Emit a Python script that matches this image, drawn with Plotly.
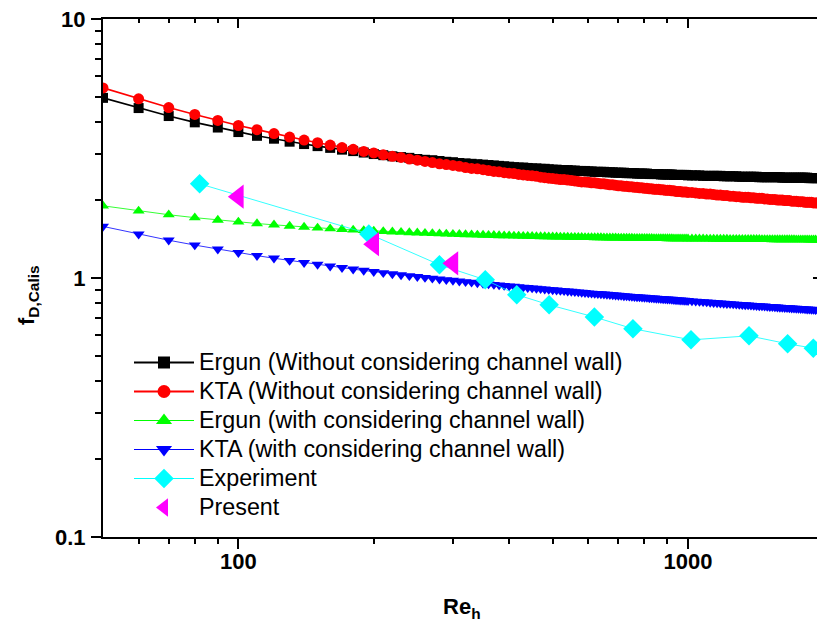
import plotly.graph_objects as go

# ---------------- data ----------------
re_model = [50, 60, 70, 80, 90, 100, 110, 120, 130, 140,
            150, 160, 170, 180, 190, 200, 210, 220, 230, 240,
            250, 260, 270, 280, 290, 300, 310, 320, 330, 340,
            350, 360, 370, 380, 390, 400, 410, 420, 430, 440,
            450, 460, 470, 480, 490, 500, 510, 520, 530, 540,
            550, 560, 570, 580, 590, 600, 610, 620, 630, 640,
            650, 660, 670, 680, 690, 700, 710, 720, 730, 740,
            750, 760, 770, 780, 790, 800, 810, 820, 830, 840,
            850, 860, 870, 880, 890, 900, 910, 920, 930, 940,
            950, 960, 970, 980, 990, 1000, 1020, 1040, 1060, 1080,
            1100, 1120, 1140, 1160, 1180, 1200, 1220, 1240, 1260, 1280,
            1300, 1320, 1340, 1360, 1380, 1400, 1420, 1440, 1460, 1480,
            1500, 1520, 1540, 1560, 1580, 1600, 1620, 1640, 1660, 1680,
            1700, 1720, 1740, 1760, 1780, 1800, 1820, 1840, 1860, 1880,
            1900, 1920, 1940, 1960, 1980, 2000]

ergun_no_wall = [4.96, 4.53, 4.22, 3.99, 3.81, 3.66, 3.54, 3.45, 3.36, 3.29,
                 3.23, 3.18, 3.13, 3.09, 3.05, 3.01, 2.98, 2.95, 2.93, 2.91,
                 2.88, 2.86, 2.85, 2.83, 2.81, 2.80, 2.78, 2.77, 2.76, 2.75,
                 2.74, 2.73, 2.72, 2.71, 2.70, 2.69, 2.68, 2.67, 2.67, 2.66,
                 2.65, 2.65, 2.64, 2.64, 2.63, 2.62, 2.62, 2.61, 2.61, 2.61,
                 2.60, 2.60, 2.59, 2.59, 2.59, 2.58, 2.58, 2.57, 2.57, 2.57,
                 2.57, 2.56, 2.56, 2.56, 2.55, 2.55, 2.55, 2.55, 2.54, 2.54,
                 2.54, 2.54, 2.53, 2.53, 2.53, 2.53, 2.53, 2.52, 2.52, 2.52,
                 2.52, 2.52, 2.51, 2.51, 2.51, 2.51, 2.51, 2.51, 2.50, 2.50,
                 2.50, 2.50, 2.50, 2.50, 2.50, 2.49, 2.49, 2.49, 2.49, 2.48,
                 2.48, 2.48, 2.48, 2.48, 2.48, 2.47, 2.47, 2.47, 2.47, 2.47,
                 2.46, 2.46, 2.46, 2.46, 2.46, 2.46, 2.46, 2.45, 2.45, 2.45,
                 2.45, 2.45, 2.45, 2.45, 2.45, 2.45, 2.44, 2.44, 2.44, 2.44,
                 2.44, 2.44, 2.44, 2.44, 2.44, 2.44, 2.44, 2.44, 2.43, 2.43,
                 2.43, 2.43, 2.43, 2.43, 2.43, 2.43]

kta_no_wall = [5.42, 4.92, 4.55, 4.28, 4.06, 3.88, 3.74, 3.61, 3.50, 3.41,
               3.33, 3.26, 3.19, 3.14, 3.08, 3.04, 2.99, 2.95, 2.92, 2.88,
               2.85, 2.82, 2.79, 2.76, 2.74, 2.72, 2.70, 2.67, 2.65, 2.64,
               2.62, 2.60, 2.58, 2.57, 2.55, 2.54, 2.53, 2.51, 2.50, 2.49,
               2.48, 2.47, 2.45, 2.44, 2.43, 2.42, 2.41, 2.40, 2.40, 2.39,
               2.38, 2.37, 2.36, 2.35, 2.35, 2.34, 2.33, 2.33, 2.32, 2.31,
               2.31, 2.30, 2.29, 2.29, 2.28, 2.27, 2.27, 2.26, 2.26, 2.25,
               2.25, 2.24, 2.24, 2.23, 2.23, 2.22, 2.22, 2.21, 2.21, 2.20,
               2.20, 2.20, 2.19, 2.19, 2.18, 2.18, 2.18, 2.17, 2.17, 2.16,
               2.16, 2.16, 2.15, 2.15, 2.15, 2.14, 2.14, 2.13, 2.12, 2.12,
               2.11, 2.11, 2.10, 2.09, 2.09, 2.08, 2.08, 2.07, 2.07, 2.06,
               2.06, 2.05, 2.05, 2.05, 2.04, 2.04, 2.03, 2.03, 2.03, 2.02,
               2.02, 2.01, 2.01, 2.01, 2.00, 2.00, 2.00, 1.99, 1.99, 1.99,
               1.98, 1.98, 1.98, 1.97, 1.97, 1.97, 1.96, 1.96, 1.96, 1.96,
               1.95, 1.95, 1.95, 1.94, 1.94, 1.94]

ergun_wall = [1.900, 1.815, 1.755, 1.710, 1.674, 1.646, 1.623, 1.604, 1.587, 1.573,
              1.561, 1.551, 1.541, 1.533, 1.526, 1.519, 1.513, 1.507, 1.502, 1.498,
              1.494, 1.490, 1.486, 1.483, 1.480, 1.477, 1.474, 1.471, 1.469, 1.467,
              1.465, 1.463, 1.461, 1.459, 1.457, 1.456, 1.454, 1.453, 1.451, 1.450,
              1.448, 1.447, 1.446, 1.445, 1.444, 1.443, 1.442, 1.441, 1.440, 1.439,
              1.438, 1.437, 1.437, 1.436, 1.435, 1.434, 1.434, 1.433, 1.432, 1.432,
              1.431, 1.430, 1.430, 1.429, 1.429, 1.428, 1.428, 1.427, 1.427, 1.426,
              1.426, 1.425, 1.425, 1.425, 1.424, 1.424, 1.423, 1.423, 1.423, 1.422,
              1.422, 1.422, 1.421, 1.421, 1.421, 1.420, 1.420, 1.420, 1.419, 1.419,
              1.419, 1.418, 1.418, 1.418, 1.418, 1.417, 1.417, 1.416, 1.416, 1.416,
              1.415, 1.415, 1.414, 1.414, 1.414, 1.413, 1.413, 1.412, 1.412, 1.412,
              1.412, 1.411, 1.411, 1.411, 1.410, 1.410, 1.410, 1.410, 1.409, 1.409,
              1.409, 1.409, 1.408, 1.408, 1.408, 1.408, 1.408, 1.407, 1.407, 1.407,
              1.407, 1.407, 1.406, 1.406, 1.406, 1.406, 1.406, 1.406, 1.405, 1.405,
              1.405, 1.405, 1.405, 1.405, 1.405, 1.405]

kta_wall = [1.582, 1.477, 1.399, 1.340, 1.292, 1.253, 1.220, 1.192, 1.168, 1.146,
            1.128, 1.111, 1.096, 1.082, 1.069, 1.058, 1.047, 1.037, 1.028, 1.020,
            1.012, 1.004, 0.997, 0.990, 0.984, 0.978, 0.972, 0.967, 0.962, 0.957,
            0.952, 0.948, 0.943, 0.939, 0.935, 0.931, 0.928, 0.924, 0.921, 0.917,
            0.914, 0.911, 0.908, 0.905, 0.902, 0.899, 0.897, 0.894, 0.892, 0.889,
            0.887, 0.884, 0.882, 0.880, 0.878, 0.875, 0.873, 0.871, 0.870, 0.868,
            0.866, 0.864, 0.862, 0.860, 0.858, 0.856, 0.855, 0.853, 0.852, 0.850,
            0.848, 0.847, 0.845, 0.844, 0.842, 0.841, 0.840, 0.838, 0.837, 0.836,
            0.834, 0.833, 0.832, 0.830, 0.829, 0.828, 0.827, 0.826, 0.824, 0.823,
            0.822, 0.821, 0.820, 0.819, 0.818, 0.817, 0.815, 0.813, 0.811, 0.809,
            0.807, 0.805, 0.803, 0.801, 0.799, 0.798, 0.796, 0.795, 0.793, 0.791,
            0.790, 0.788, 0.787, 0.786, 0.784, 0.783, 0.781, 0.780, 0.779, 0.778,
            0.776, 0.775, 0.774, 0.773, 0.771, 0.770, 0.769, 0.768, 0.767, 0.766,
            0.765, 0.764, 0.763, 0.762, 0.761, 0.760, 0.759, 0.758, 0.757, 0.756,
            0.755, 0.754, 0.753, 0.752, 0.751, 0.750]

re_experiment = [82, 195, 280, 354, 416, 491, 619, 754, 1015, 1366, 1665, 1899]
f_experiment = [2.31, 1.48, 1.125, 0.984, 0.862, 0.788, 0.707, 0.637, 0.577, 0.598, 0.557, 0.536]

re_present = [100, 200, 300]
f_present = [2.06, 1.35, 1.14]

x_major_ticks = [100, 1000]
x_major_labels = ["100", "1000"]
x_minor_ticks = [60, 70, 80, 90, 200, 300, 400, 500, 600, 700, 800, 900, 2000]
y_major_ticks = [0.1, 1, 10]
y_major_labels = ["0.1", "1", "10"]
y_minor_ticks = [0.2, 0.3, 0.4, 0.5, 0.6, 0.7, 0.8, 0.9, 2, 3, 4, 5, 6, 7, 8, 9]

names = ["Ergun (Without considering channel wall)",
         "KTA (Without considering channel wall)",
         "Ergun (with considering channel wall)",
         "KTA (with considering channel wall)",
         "Experiment",
         "Present"]

# ---------------- figure ----------------
W, H = 817, 630
SX0, SX1, SY0, SY1 = 103, 817, 19, 537          # plot area on screen
ML, MT = SX0, SY0
MR, MB = W - SX1, H - SY1
PW, PH = W - ML - MR, H - MT - MB
X_RANGE = [1.69897, 3.2867]
Y_RANGE = [-1, 1]
FONT = "Liberation Sans, Arial, sans-serif"


def px(sx):
    return (sx - SX0) / PW


def py(sy):
    return (SY1 - sy) / PH


fig = go.Figure()

series = [
    (re_model, ergun_no_wall, "#000000", "square", 10, 1.6, 12),
    (re_model, kta_no_wall, "#ff0000", "circle", 11, 1.6, 13),
    (re_model, ergun_wall, "#00ff00", "triangle-up", 10.5, 0.8, 14),
    (re_model, kta_wall, "#0000ff", "triangle-down", 10.5, 0.8, 14),
    (re_experiment, f_experiment, "#00ffff", "diamond", 15, 0.8, 15),
]
for (xs, ys, col, sym, sz, lw, lsz), nm in zip(series, names):
    fig.add_trace(go.Scatter(
        x=xs, y=ys, mode="lines+markers", name=nm, showlegend=False,
        line=dict(color=col, width=lw),
        marker=dict(symbol=sym, size=sz, color=col, line=dict(width=0)),
    ))
fig.add_trace(go.Scatter(
    x=re_present, y=f_present, mode="markers", name=names[5], showlegend=False,
    marker=dict(symbol="triangle-left", size=21, color="#ff00ff", line=dict(width=0)),
))


# legend-only entries (bigger legend symbols, as in the reference)
def leg_txt(s):
    return '<span style="font-size:23.3px">' + s + "</span>"


for (xs, ys, col, sym, sz, lw, lsz), nm in zip(series, names):
    fig.add_trace(go.Scatter(
        x=[None], y=[None], mode="lines+markers", name=leg_txt(nm),
        line=dict(color=col, width=2 if lw > 1 else 1),
        marker=dict(symbol=sym, size=lsz, color=col, line=dict(width=0)),
    ))
fig.add_trace(go.Scatter(
    x=[None], y=[None], mode="markers", name=leg_txt(names[5]),
    marker=dict(symbol="triangle-left", size=16, color="#ff00ff", line=dict(width=0)),
))

# helper traces for the mirrored top axis and right axis
fig.add_trace(go.Scatter(x=[None], y=[None], xaxis="x2", yaxis="y", showlegend=False, hoverinfo="skip"))
fig.add_trace(go.Scatter(x=[None], y=[None], xaxis="x", yaxis="y2", showlegend=False, hoverinfo="skip"))

tickfont = dict(family=FONT, size=22, color="black", weight="bold")

fig.update_layout(
    template="none",
    width=W, height=H,
    margin=dict(l=ML, r=MR, t=MT, b=MB, pad=0, autoexpand=False),
    paper_bgcolor="white", plot_bgcolor="white",
    font=dict(family=FONT, color="black"),
    xaxis=dict(
        type="log", range=X_RANGE, showgrid=False, zeroline=False, automargin=False,
        showline=True, linecolor="black", linewidth=2,
        tickmode="array", tickvals=x_major_ticks, ticktext=x_major_labels,
        ticks="outside", ticklen=10, tickwidth=2, tickcolor="black",
        tickfont=tickfont, ticklabelstandoff=-6, ticklabeloverflow="allow",
        minor=dict(tickmode="array", tickvals=x_minor_ticks, ticks="outside",
                   ticklen=5, tickwidth=1.5, tickcolor="black", showgrid=False),
    ),
    xaxis2=dict(
        type="log", range=X_RANGE, overlaying="x", side="top", anchor="y", automargin=False,
        showgrid=False, zeroline=False, showline=True, linecolor="black", linewidth=2,
        tickmode="array", tickvals=x_major_ticks, showticklabels=False,
        ticks="inside", ticklen=9, tickwidth=2, tickcolor="black",
        minor=dict(tickmode="array", tickvals=x_minor_ticks, ticks="inside",
                   ticklen=4, tickwidth=1.5, tickcolor="black", showgrid=False),
    ),
    yaxis=dict(
        type="log", range=Y_RANGE, showgrid=False, zeroline=False, automargin=False,
        showline=True, linecolor="black", linewidth=2,
        tickmode="array", tickvals=y_major_ticks, ticktext=y_major_labels,
        ticks="outside", ticklen=10, tickwidth=2, tickcolor="black",
        tickfont=tickfont, ticklabelstandoff=1, ticklabeloverflow="allow",
        minor=dict(tickmode="array", tickvals=y_minor_ticks, ticks="outside",
                   ticklen=6, tickwidth=1.5, tickcolor="black", showgrid=False),
    ),
    yaxis2=dict(
        type="log", range=Y_RANGE, overlaying="y", side="right", anchor="x", automargin=False,
        showgrid=False, zeroline=False, showline=False,
        tickmode="array", tickvals=y_major_ticks, showticklabels=False,
        ticks="inside", ticklen=4, tickwidth=2, tickcolor="black",
    ),
    legend=dict(
        x=px(129), y=py(343),
        xanchor="left", yanchor="top",
        bgcolor="rgba(0,0,0,0)", borderwidth=0,
        font=dict(family=FONT, size=20, color="black"),
        itemwidth=60, tracegroupgap=0,
    ),
    annotations=[
        dict(text="<b>Re<sub>h</sub></b>", xref="paper", yref="paper",
             x=px(462), y=py(592),
             xanchor="center", yanchor="top", showarrow=False,
             font=dict(family=FONT, size=22, color="black")),
        dict(text="<b>f<sub>D,Calis</sub></b>", xref="paper", yref="paper",
             x=px(28), y=py(295),
             xanchor="center", yanchor="middle", textangle=-90, showarrow=False,
             font=dict(family=FONT, size=22, color="black")),
    ],
)

# remove the default 8px page margin so the figure fills the window exactly
fig.write_html("out.html",
               config={"displayModeBar": False},
               post_script="document.body.style.margin='0';document.body.style.overflow='hidden';")
